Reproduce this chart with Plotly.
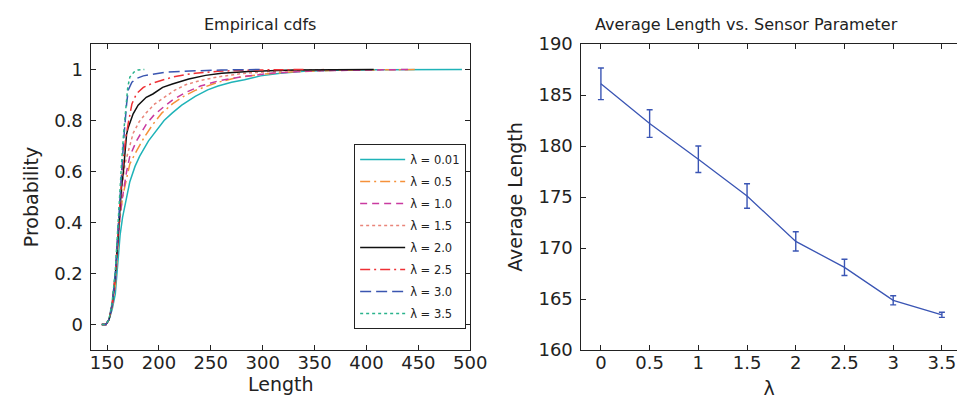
import plotly.graph_objects as go

# ---- left panel: empirical cdfs ----
lam_names = ["λ = 0.01", "λ = 0.5", "λ = 1.0", "λ = 1.5",
             "λ = 2.0", "λ = 2.5", "λ = 3.0", "λ = 3.5"]

len_001 = [145, 149, 152, 155, 158, 160, 162.6, 165, 167.3, 172, 177, 181.5, 190, 197.3, 205, 213,
           222, 235, 247, 257, 270, 282.5, 298, 317, 340, 370, 410, 492]
cdf_001 = [0, 0, 0.02, 0.06, 0.12, 0.22, 0.35, 0.42, 0.47, 0.56, 0.62, 0.66, 0.72, 0.76, 0.80, 0.83,
           0.86, 0.895, 0.92, 0.935, 0.95, 0.96, 0.975, 0.985, 0.993, 0.997, 0.999, 1.0]

len_05 = [145, 149, 152, 155, 158, 160, 162, 165, 168.9, 172, 178.4, 186, 194.2, 203, 213, 224,
          235, 246, 257, 275, 300, 330, 370, 450]
cdf_05 = [0, 0, 0.02, 0.07, 0.15, 0.27, 0.40, 0.50, 0.58, 0.63, 0.68, 0.735, 0.785, 0.83, 0.865, 0.895,
          0.918, 0.935, 0.95, 0.968, 0.982, 0.991, 0.997, 1.0]

len_10 = [145, 149, 152, 155, 158, 160, 162, 164.2, 168.9, 172, 178.4, 187.8, 195, 203.6, 213,
          225.7, 240, 257, 280, 310, 350, 440]
cdf_10 = [0, 0, 0.02, 0.07, 0.16, 0.29, 0.40, 0.48, 0.60, 0.66, 0.72, 0.785, 0.82, 0.85, 0.88,
          0.91, 0.935, 0.955, 0.972, 0.986, 0.995, 1.0]

len_15 = [145, 149, 152, 155, 158, 160, 162, 164.5, 167.3, 172, 175.2, 181, 187.8, 196, 206.8, 215,
          225.7, 240, 257, 280, 310, 360]
cdf_15 = [0, 0, 0.02, 0.08, 0.18, 0.30, 0.42, 0.54, 0.63, 0.70, 0.75, 0.795, 0.83, 0.865, 0.895,
          0.918, 0.94, 0.957, 0.971, 0.984, 0.993, 1.0]

len_20 = [145, 149, 152, 155, 158, 160, 162, 164, 165.8, 168, 168.9, 170.5, 175.2, 180, 187.8,
          194.2, 203.6, 213, 228.8, 245, 260.4, 290, 330, 407]
cdf_20 = [0, 0, 0.02, 0.08, 0.19, 0.32, 0.45, 0.54, 0.60, 0.70, 0.747, 0.773, 0.826, 0.86, 0.891,
          0.904, 0.93, 0.943, 0.963, 0.977, 0.985, 0.993, 0.998, 1.0]

len_25 = [145, 149, 152, 155, 158, 160, 162, 164, 166, 168, 170.5, 174, 178.4, 185, 194.2, 200,
          213, 225.7, 235, 257, 290, 340]
cdf_25 = [0, 0, 0.02, 0.08, 0.2, 0.33, 0.46, 0.57, 0.66, 0.73, 0.79, 0.865, 0.905, 0.93, 0.947,
          0.955, 0.97, 0.98, 0.985, 0.993, 0.998, 1.0]

len_30 = [145, 149, 152, 155, 158, 160, 162, 164, 166, 168.9, 170.5, 174, 178.4, 185, 195, 206.8,
          230, 260, 300]
cdf_30 = [0, 0, 0.02, 0.08, 0.2, 0.34, 0.48, 0.6, 0.72, 0.865, 0.92, 0.95, 0.965, 0.975, 0.983,
          0.99, 0.994, 0.998, 1.0]

len_35 = [145, 149, 152, 155, 158, 160, 162, 164, 166, 168, 170, 172, 176, 180, 186]
cdf_35 = [0, 0, 0.02, 0.09, 0.21, 0.36, 0.50, 0.63, 0.75, 0.86, 0.93, 0.97, 0.99, 0.998, 1.0]

# ---- right panel: average length vs lambda ----
lam_vals = [0, 0.5, 1, 1.5, 2, 2.5, 3, 3.5]
avg_len = [186.1, 182.2, 178.7, 175.1, 170.65, 168.1, 164.87, 163.45]
avg_err = [1.55, 1.35, 1.3, 1.2, 0.95, 0.8, 0.45, 0.25]

lengths = [len_001, len_05, len_10, len_15, len_20, len_25, len_30, len_35]
cdfs = [cdf_001, cdf_05, cdf_10, cdf_15, cdf_20, cdf_25, cdf_30, cdf_35]
colors = ["#1fb3b8", "#f5913a", "#c93aa0", "#e9857a", "#111111", "#ee3035", "#3a55b0", "#2ab38c"]
dashes = ["solid", "10px,4px,2px,4px", "7px,5px", "dot", "solid", "10px,4px,2px,4px",
          "11px,5px", "dot"]

FONT = "DejaVu Sans, Liberation Sans, sans-serif"
W, H = 966, 401
TOP, BOTTOM = 36, 342

fig = go.Figure()

for i in range(len(lam_names)):
    fig.add_trace(go.Scatter(
        x=lengths[i], y=cdfs[i], mode="lines", name=lam_names[i],
        legendgroup=str(i),
        line=dict(color=colors[i], dash=dashes[i], width=1.5),
        xaxis="x", yaxis="y",
    ))

fig.add_trace(go.Scatter(
    x=lam_vals, y=avg_len, mode="lines", showlegend=False,
    line=dict(color="#3a55b4", width=1.3),
    error_y=dict(type="data", array=avg_err, color="#3a55b4", thickness=1.4, width=3),
    xaxis="x2", yaxis="y2",
))

axis_common = dict(
    showgrid=False, zeroline=False, showline=True, linecolor="#222", linewidth=1,
    ticks="inside", ticklen=5, tickcolor="#222",
    tickfont=dict(family=FONT, size=18, color="#222"),
)
xfix = dict(ticklabelstandoff=-4)
yfix = dict(ticklabelstandoff=4)

fig.update_layout(
    width=W, height=H,
    margin=dict(l=0, r=0, t=TOP, b=H - BOTTOM),
    paper_bgcolor="white", plot_bgcolor="white",
    font=dict(family=FONT, color="#222"),
    xaxis=dict(axis_common, **xfix, domain=[84 / W, 470 / W], range=[135, 500],
               tickvals=[150, 200, 250, 300, 350, 400, 450, 500], mirror="ticks",
               title=dict(text="Length", font=dict(size=19), standoff=6)),
    yaxis=dict(axis_common, **yfix, range=[-0.1, 1.1], tickvals=[0, 0.2, 0.4, 0.6, 0.8, 1],
               mirror="ticks",
               title=dict(text="Probability", font=dict(size=19), standoff=10)),
    xaxis2=dict(axis_common, **xfix, domain=[583.3 / W, 1], range=[-0.2, 3.655],
                tickvals=lam_vals, mirror="ticks", anchor="y2",
                title=dict(text="λ", font=dict(size=19), standoff=10)),
    yaxis2=dict(axis_common, **yfix, range=[160, 190],
                tickvals=[160, 165, 170, 175, 180, 185, 190], anchor="x2",
                title=dict(text="Average Length", font=dict(size=19), standoff=10)),
    legend=dict(x=351.7 / W, y=(BOTTOM - 136) / (BOTTOM - TOP), xanchor="left", yanchor="top",
                bgcolor="white", bordercolor="#222", borderwidth=1,
                font=dict(family=FONT, size=11.5, color="#222"),
                itemwidth=45, tracegroupgap=3),
    annotations=[
        dict(text="Empirical cdfs", x=256 / W, y=(BOTTOM - 16) / (BOTTOM - TOP),
             xref="paper", yref="paper", showarrow=False, xanchor="center", yanchor="middle",
             font=dict(family=FONT, size=16, color="#222")),
        dict(text="Average Length vs. Sensor Parameter", x=751 / W,
             y=(BOTTOM - 16) / (BOTTOM - TOP),
             xref="paper", yref="paper", showarrow=False, xanchor="center", yanchor="middle",
             font=dict(family=FONT, size=16, color="#222")),
    ],
)

fig.write_html("out.html")
